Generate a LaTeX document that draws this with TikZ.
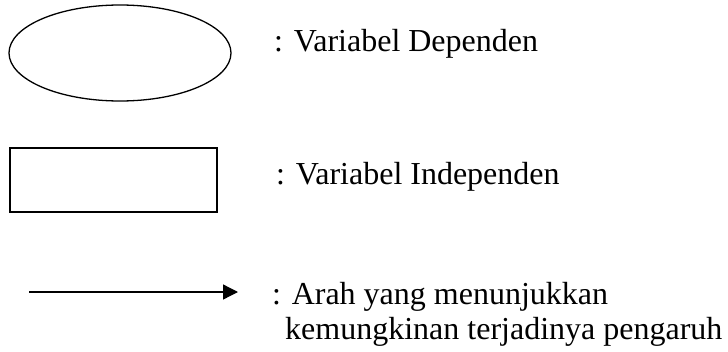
\documentclass[tikz,border=0pt]{standalone}
\usepackage{fontspec}
\setmainfont{Liberation Serif}
\usetikzlibrary{arrows.meta,shapes.geometric}
\tikzset{
  shp/.style={draw=black, line width=1.3pt},
  lbl/.style={anchor=base west, inner sep=0pt, font=\fontsize{32}{37}\selectfont},
  arr/.style={draw=black, line width=1.3pt, -{Triangle[length=15pt,width=15pt]}}
}
\begin{document}
\begin{tikzpicture}[x=1pt,y=-1pt]
\useasboundingbox (0,0) rectangle (728,351);
\node[shp, ellipse, minimum width=222pt, minimum height=96pt, inner sep=0pt] (dep) at (120,53) {};
\node[lbl] (tdep) at (274,51) {: Variabel Dependen};
\node[shp, rectangle, minimum width=207pt, minimum height=64pt, inner sep=0pt] (ind) at (113.5,180) {};
\node[lbl] (tind) at (276,184) {: Variabel Independen};
\coordinate (a1) at (29,292);
\coordinate (a2) at (238,292);
\draw[arr] (a1) -- (a2);
\node[lbl] (tarr1) at (272,304) {: Arah yang menunjukkan};
\node[lbl] (tarr2) at (285,339) {kemungkinan terjadinya pengaruh};
\end{tikzpicture}
\end{document}
